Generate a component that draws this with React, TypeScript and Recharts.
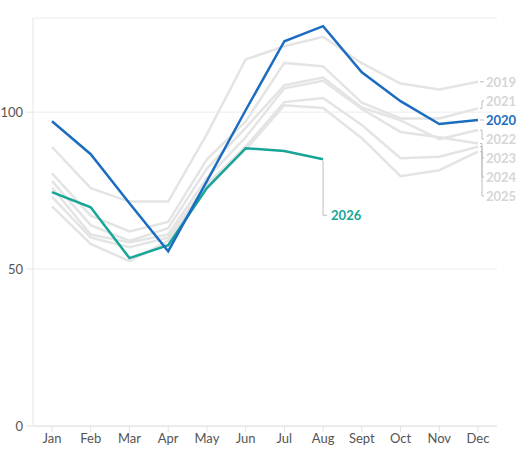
import { LineChart, Line, XAxis, YAxis, CartesianGrid } from "recharts";

const MONTHS = ["Jan", "Feb", "Mar", "Apr", "May", "Jun", "Jul", "Aug", "Sept", "Oct", "Nov", "Dec"];

const Y2019 = [88.9, 75.8, 71.5, 71.5, 93, 116.8, 121, 124, 115.6, 109.1, 107.2, 109.7];
const Y2020 = [97.1, 86.6, 71, 55.7, 78, 100.6, 122.6, 127.4, 112.7, 103.5, 96.2, 97.5];
const Y2021 = [80.5, 67, 62, 65, 85, 97, 115.7, 114.6, 103, 98, 98, 101.2];
const Y2022 = [78, 64, 59, 63, 82, 95, 108.6, 111, 101.5, 97.4, 91.4, 94.3];
const Y2023 = [76, 61, 58.5, 61, 79, 92, 107.6, 110, 101, 93.7, 92, 90];
const Y2024 = [73, 60, 57, 60, 77, 89, 103.2, 104.5, 95.9, 85.3, 85.8, 89];
const Y2025 = [70, 58, 52.5, 59, 76, 88, 102.2, 101.3, 91.7, 79.6, 81.5, 87.4];
const Y2026 = [74.5, 69.7, 53.5, 57.6, 75.8, 88.5, 87.6, 85];

const Y_TICKS = [0, 50, 100];

const BLUE = "#1c6dc1";
const TEAL = "#17a597";
const GREY = "#e4e4e4";
const LABEL_GREY = "#d6d6d6";
const CONNECTOR = "#bdbdbd";

const W = 525;
const H = 458;
const MARGIN = { top: 18, right: 28, bottom: 6, left: 0 };
const X_AXIS_H = 26;
const Y_AXIS_W = 33;
const Y_MAX = 130;
const PLOT_H = H - MARGIN.top - MARGIN.bottom - X_AXIS_H;
const LABEL_GAP = 19;
const FONT = "Lato, 'Noto Sans', sans-serif";

type Series = { key: string; name: string; values: number[]; color: string; highlight?: boolean };

const GREYS: Series[] = [
  { key: "y2019", name: "2019", values: Y2019, color: GREY },
  { key: "y2021", name: "2021", values: Y2021, color: GREY },
  { key: "y2022", name: "2022", values: Y2022, color: GREY },
  { key: "y2023", name: "2023", values: Y2023, color: GREY },
  { key: "y2024", name: "2024", values: Y2024, color: GREY },
  { key: "y2025", name: "2025", values: Y2025, color: GREY },
];
const MAIN: Series = { key: "y2020", name: "2020", values: Y2020, color: BLUE, highlight: true };
const ENDED = [...GREYS, MAIN];

const data = MONTHS.map((m, i) => {
  const row: Record<string, string | number | undefined> = { month: m, y2026: Y2026[i] };
  ENDED.forEach((s) => (row[s.key] = s.values[i]));
  return row;
});

// push end labels away from the highlighted one so they don't collide
function labelShifts() {
  const k = PLOT_H / Y_MAX;
  const items = ENDED.map((s) => ({ key: s.key, end: (Y_MAX - s.values[s.values.length - 1]) * k, pos: 0 }))
    .sort((a, b) => a.end - b.end);
  const a = items.findIndex((it) => it.key === MAIN.key);
  items[a].pos = items[a].end;
  for (let i = a - 1; i >= 0; i--) items[i].pos = Math.min(items[i].end, items[i + 1].pos - LABEL_GAP);
  for (let i = a + 1; i < items.length; i++) items[i].pos = Math.max(items[i].end, items[i - 1].pos + LABEL_GAP);
  const out: Record<string, number> = {};
  items.forEach((it) => (out[it.key] = it.pos - it.end));
  return out;
}
const SHIFTS = labelShifts();

function endLabel(s: Series) {
  return (props: any) => {
    const { x, y, index } = props;
    if (index !== s.values.length - 1) return null;
    const dy = SHIFTS[s.key] || 0;
    const ly = y + dy;
    return (
      <g key={`lbl-${s.key}`}>
        <path d={`M${x + 2},${y}H${x + 4}V${ly}H${x + 6}`} stroke={CONNECTOR} strokeWidth={1} fill="none" />
        <text
          x={x + 8}
          y={ly}
          dominantBaseline="central"
          fontFamily={FONT}
          fontWeight={700}
          fontSize={13}
          fill={s.highlight ? s.color : LABEL_GREY}
        >
          {s.name}
        </text>
      </g>
    );
  };
}

function label2026(props: any) {
  const { x, y, index } = props;
  if (index !== Y2026.length - 1) return null;
  const ly = y + 56;
  return (
    <g key="lbl-2026">
      <path d={`M${x},${y + 2}V${ly}H${x + 4}`} stroke={CONNECTOR} strokeWidth={1} fill="none" />
      <text x={x + 8} y={ly} dominantBaseline="central" fontFamily={FONT} fontWeight={700} fontSize={13} fill={TEAL}>
        2026
      </text>
    </g>
  );
}

export default function App() {
  return (
    <div style={{ position: "absolute", left: 0, top: 0, width: W, height: H, background: "#fff" }}>
      <LineChart width={W} height={H} data={data} margin={MARGIN}>
        <CartesianGrid vertical={false} stroke="#ececec" />
        <XAxis
          dataKey="month"
          height={X_AXIS_H}
          padding={{ left: 19, right: 19 }}
          tick={{ fill: "#555", fontSize: 13, fontFamily: FONT }}
          tickSize={6}
          axisLine={{ stroke: "#e2e2e2" }}
          tickLine={{ stroke: "#e2e2e2" }}
        />
        <YAxis
          width={Y_AXIS_W}
          domain={[0, Y_MAX]}
          ticks={Y_TICKS}
          tick={{ fill: "#555", fontSize: 13, fontFamily: FONT }}
          tickSize={7}
          tickMargin={3}
          axisLine={{ stroke: "#e6e6e6" }}
          tickLine={{ stroke: "#e6e6e6" }}
        />
        {GREYS.map((s) => (
          <Line
            key={s.key}
            dataKey={s.key}
            stroke={s.color}
            strokeWidth={2.5}
            dot={false}
            activeDot={false}
            isAnimationActive={false}
            label={endLabel(s)}
          />
        ))}
        <Line
          dataKey="y2026"
          stroke={TEAL}
          strokeWidth={2.5}
          dot={false}
          activeDot={false}
          isAnimationActive={false}
          label={label2026}
        />
        <Line
          dataKey={MAIN.key}
          stroke={BLUE}
          strokeWidth={2.5}
          dot={false}
          activeDot={false}
          isAnimationActive={false}
          label={endLabel(MAIN)}
        />
      </LineChart>
    </div>
  );
}
